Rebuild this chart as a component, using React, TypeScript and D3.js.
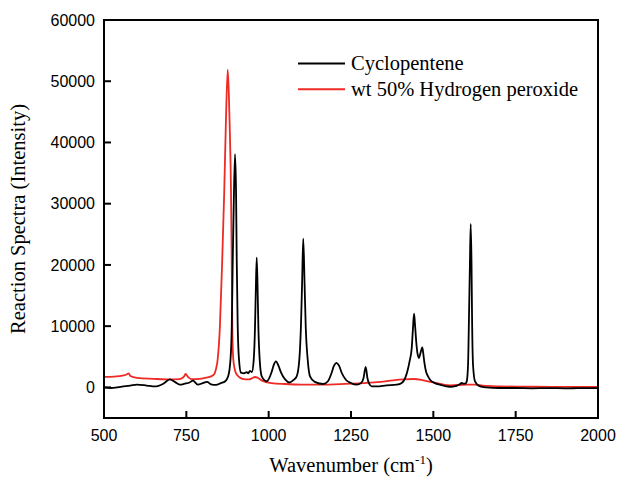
import React from "react";
import * as d3 from "d3";

// Wavenumber (cm-1) / intensity pairs
const cyclopentene: [number, number][] = [
  [500, 0], [520, -100], [550, 100], [580, 300], [600, 450], [630, 300], [655, 150], [680, 600],
  [700, 1300], [715, 900], [730, 450], [745, 600], [760, 800], [770, 1100], [785, 450], [800, 700],
  [813, 900], [825, 500], [840, 400], [855, 700], [868, 1000], [877, 1800], [884, 4500], [888, 10000],
  [891, 20900], [894, 30000], [897.8, 38100], [901, 31800], [903, 20900], [906, 10000], [910, 4500],
  [916, 2400], [925, 2300], [933, 2500], [938, 2300], [943, 2700], [949, 2500], [954.6, 4500],
  [958.6, 10000], [961, 16000], [963.7, 21200], [966.5, 16000], [968.7, 10000], [972.8, 4500],
  [979, 1800], [994, 1000], [1009, 2500], [1015, 3600], [1022, 4250], [1030, 3500], [1037, 2500],
  [1050, 1300], [1063, 800], [1075, 1200], [1085, 1800], [1093, 4500], [1098, 10000], [1101.5, 17000],
  [1105, 24300], [1109, 17000], [1112.5, 10000], [1118.6, 4500], [1125.6, 1800], [1140, 900],
  [1166, 550], [1180, 1000], [1191, 2350], [1198, 3500], [1206, 4000], [1214, 3500], [1222, 2350],
  [1235, 1200], [1250, 700], [1268, 440], [1280, 700], [1288, 1500], [1294.6, 3330], [1300, 1500],
  [1305, 600], [1313, 160], [1328, 160], [1358, 330], [1389, 440], [1404, 720], [1415, 1600],
  [1421, 2600], [1428, 4300], [1434.4, 6440], [1438, 9500], [1441.4, 12040], [1444, 10500],
  [1448, 7500], [1452, 5500], [1456.5, 4800], [1461, 5600], [1466.7, 6540], [1470, 5300], [1473, 4000],
  [1477.8, 2600], [1484, 1800], [1490, 1260], [1505, 700], [1520, 440], [1550, 100], [1570, 250],
  [1580, 500], [1586, 720], [1592, 600], [1597, 600], [1601.4, 980], [1605.4, 3700], [1608.4, 11900],
  [1611, 20000], [1613.5, 26700], [1616, 20000], [1617.5, 11900], [1620.5, 3700], [1626.6, 980],
  [1642, 160], [1660, 0], [1700, -100], [1750, -100], [1800, -150], [1850, -120], [1900, -150],
  [1950, -130], [2000, -130],
];

const hydrogenPeroxide: [number, number][] = [
  [500, 1700], [530, 1750], [560, 1950], [570, 2150], [575, 2300], [580, 1850], [600, 1550],
  [650, 1400], [700, 1300], [730, 1350], [742, 1700], [748, 2200], [755, 1700], [765, 1350],
  [790, 1400], [810, 1600], [825, 1800], [835, 2200], [840, 3000], [845, 4500], [852, 10000],
  [859, 20900], [865, 31800], [870, 43000], [875.6, 51900], [879, 48000], [881.7, 42600],
  [885.7, 31800], [887.8, 20900], [889.6, 10000], [892.7, 4500], [900, 2400], [910, 1700],
  [920, 1400], [940, 1300], [950, 1500], [958, 1700], [966, 1600], [980, 1100], [1009, 700],
  [1050, 550], [1100, 450], [1141, 440], [1200, 500], [1250, 600], [1298, 720], [1340, 900],
  [1378, 1150], [1410, 1300], [1441, 1370], [1470, 1150], [1500, 800], [1551, 330], [1601, 450],
  [1625, 450], [1651, 280], [1702, 170], [1800, 100], [1900, 80], [2000, 60],
];

const xTicks = [500, 750, 1000, 1250, 1500, 1750, 2000];
const yTicks = [0, 10000, 20000, 30000, 40000, 50000, 60000];
const seriesNames = ["Cyclopentene", "wt 50% Hydrogen peroxide"];
const seriesColors = ["#000000", "#ee2a24"];

export default function App() {
  const left = 104, right = 598, top = 20, bottom = 418;
  const x = d3.scaleLinear().domain([500, 2000]).range([left, right]);
  const y = d3.scaleLinear().domain([-5000, 60000]).range([bottom, top]);
  const line = d3
    .line<[number, number]>()
    .x((d) => x(d[0]))
    .y((d) => y(d[1]))
    .curve(d3.curveMonotoneX);

  const sans = "Arial, 'Liberation Sans', sans-serif";
  const serif = "'Times New Roman', 'Liberation Serif', serif";

  return (
    <svg
      width={618}
      height={477}
      style={{ position: "absolute", left: 0, top: 0, background: "#fff" }}
    >
      <rect x={0} y={0} width={618} height={477} fill="#fff" />
      <path d={line(hydrogenPeroxide) || ""} fill="none" stroke={seriesColors[1]} strokeWidth={1.8} />
      <path d={line(cyclopentene) || ""} fill="none" stroke={seriesColors[0]} strokeWidth={1.8} />

      {/* frame */}
      <rect
        x={left}
        y={top}
        width={right - left}
        height={bottom - top}
        fill="none"
        stroke="#000"
        strokeWidth={2}
      />

      {/* x ticks */}
      {xTicks.map((t) => (
        <g key={"x" + t}>
          <line x1={x(t)} x2={x(t)} y1={bottom} y2={bottom - 7} stroke="#000" strokeWidth={2} />
          <text x={x(t)} y={441} textAnchor="middle" fontFamily={sans} fontSize={16} fill="#000">
            {t}
          </text>
        </g>
      ))}

      {/* y ticks */}
      {yTicks.map((t) => (
        <g key={"y" + t}>
          <line x1={left} x2={left + 7} y1={y(t)} y2={y(t)} stroke="#000" strokeWidth={2} />
          <text
            x={95}
            y={y(t)}
            dy="0.36em"
            textAnchor="end"
            fontFamily={sans}
            fontSize={16}
            fill="#000"
          >
            {t}
          </text>
        </g>
      ))}

      {/* axis titles */}
      <text
        x={(left + right) / 2}
        y={472}
        textAnchor="middle"
        fontFamily={serif}
        fontSize={20.5}
        fill="#000"
      >
        Wavenumber (cm
        <tspan fontSize={13} dy={-8}>-1</tspan>
        <tspan dy={8}>)</tspan>
      </text>
      <text
        transform={`translate(25, ${(top + bottom) / 2}) rotate(-90)`}
        textAnchor="middle"
        fontFamily={serif}
        fontSize={20.5}
        fill="#000"
      >
        Reaction Spectra (Intensity)
      </text>

      {/* legend */}
      {seriesNames.map((name, i) => (
        <g key={name}>
          <line
            x1={298}
            x2={345}
            y1={63.5 + i * 25.7}
            y2={63.5 + i * 25.7}
            stroke={seriesColors[i]}
            strokeWidth={2}
          />
          <text x={351} y={70 + i * 25.7} fontFamily={serif} fontSize={20.5} fill="#000">
            {name}
          </text>
        </g>
      ))}
    </svg>
  );
}
